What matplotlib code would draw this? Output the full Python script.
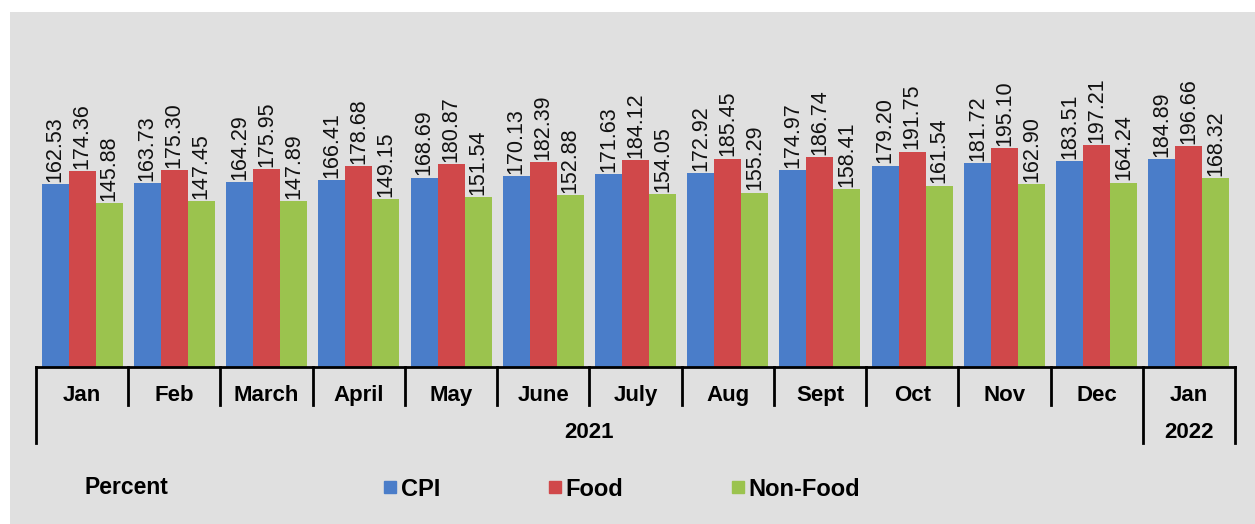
import numpy as np
import matplotlib
matplotlib.use('Agg')
import matplotlib.pyplot as plt
from matplotlib.lines import Line2D
from matplotlib.patches import Rectangle

plt.rcParams['font.family'] = ['Liberation Sans', 'DejaVu Sans']

months = ['Jan', 'Feb', 'March', 'April', 'May', 'June', 'July', 'Aug',
          'Sept', 'Oct', 'Nov', 'Dec', 'Jan']
years = ['2021', '2022']
year_counts = [12, 1]

cpi = [162.53, 163.73, 164.29, 166.41, 168.69, 170.13, 171.63, 172.92,
       174.97, 179.20, 181.72, 183.51, 184.89]
food = [174.36, 175.30, 175.95, 178.68, 180.87, 182.39, 184.12, 185.45,
        186.74, 191.75, 195.10, 197.21, 196.66]
nonfood = [145.88, 147.45, 147.89, 149.15, 151.54, 152.88, 154.05, 155.29,
           158.41, 161.54, 162.90, 164.24, 168.32]

series = [('CPI', cpi, '#4a7dc9'), ('Food', food, '#d0484a'),
          ('Non-Food', nonfood, '#9bc34e')]

bg = '#e0e0e0'
W, H = 1255, 524
fig = plt.figure(figsize=(W / 100, H / 100), dpi=100)
fig.patch.set_facecolor('white')
fig.patches.append(Rectangle((10 / W, 0), 1, 1 - 12 / H, transform=fig.transFigure,
                             facecolor=bg, edgecolor='none', zorder=-10))

ax = fig.add_axes([36 / W, 1 - 367 / H, (1235 - 36) / W, (367 - 30) / H])
ax.patch.set_alpha(0)

x = np.arange(len(months))
bw = 0.293
for k, (name, vals, col) in enumerate(series):
    pos = x + (k - 1) * bw
    ax.bar(pos, vals, width=bw, color=col, zorder=2)
    for p, v in zip(pos, vals):
        ax.text(p, v + 2, f'{v:.2f}', rotation=90, ha='center', va='bottom',
                fontsize=15.5, color='#111111')

ax.set_xlim(-0.5, len(months) - 0.5)
ax.set_ylim(0, 300)
ax.set_yticks([])
for s in ['left', 'right', 'top']:
    ax.spines[s].set_visible(False)
ax.spines['bottom'].set_linewidth(2)
ax.set_xticks(x)
ax.set_xticklabels(months, fontsize=16, fontweight='bold')
ax.tick_params(axis='x', length=0, pad=13)

tr = ax.get_xaxis_transform()
ah = 367 - 30
short_y = -38 / ah
long_y = -76 / ah
long_edges = [0]
c = 0
for n in year_counts:
    c += n
    long_edges.append(c)
for i in range(len(months) + 1):
    y1 = long_y if i in long_edges else short_y
    ax.plot([i - 0.5, i - 0.5], [0, y1], color='black', lw=2,
            transform=tr, clip_on=False)

start = 0
for yr, n in zip(years, year_counts):
    ax.text(start + (n - 1) / 2, -65 / ah, yr, transform=tr, ha='center',
            va='center', fontsize=16, fontweight='bold')
    start += n

fig.text(85 / W, 1 - 487 / H, 'Percent', fontsize=16.5, fontweight='bold',
         ha='left', va='center')

handles = [Line2D([], [], marker='s', linestyle='none', markersize=9,
                  color=col) for _, _, col in series]
fig.legend(handles, [s[0] for s in series], ncol=3, frameon=False,
           loc='center left', bbox_to_anchor=(382 / W, 1 - 489 / H),
           prop={'size': 17, 'weight': 'bold'}, handlelength=0.7,
           handletextpad=0.1, columnspacing=4.5, borderpad=0, borderaxespad=0)

fig.savefig('out.png', dpi=100, facecolor=fig.get_facecolor())
